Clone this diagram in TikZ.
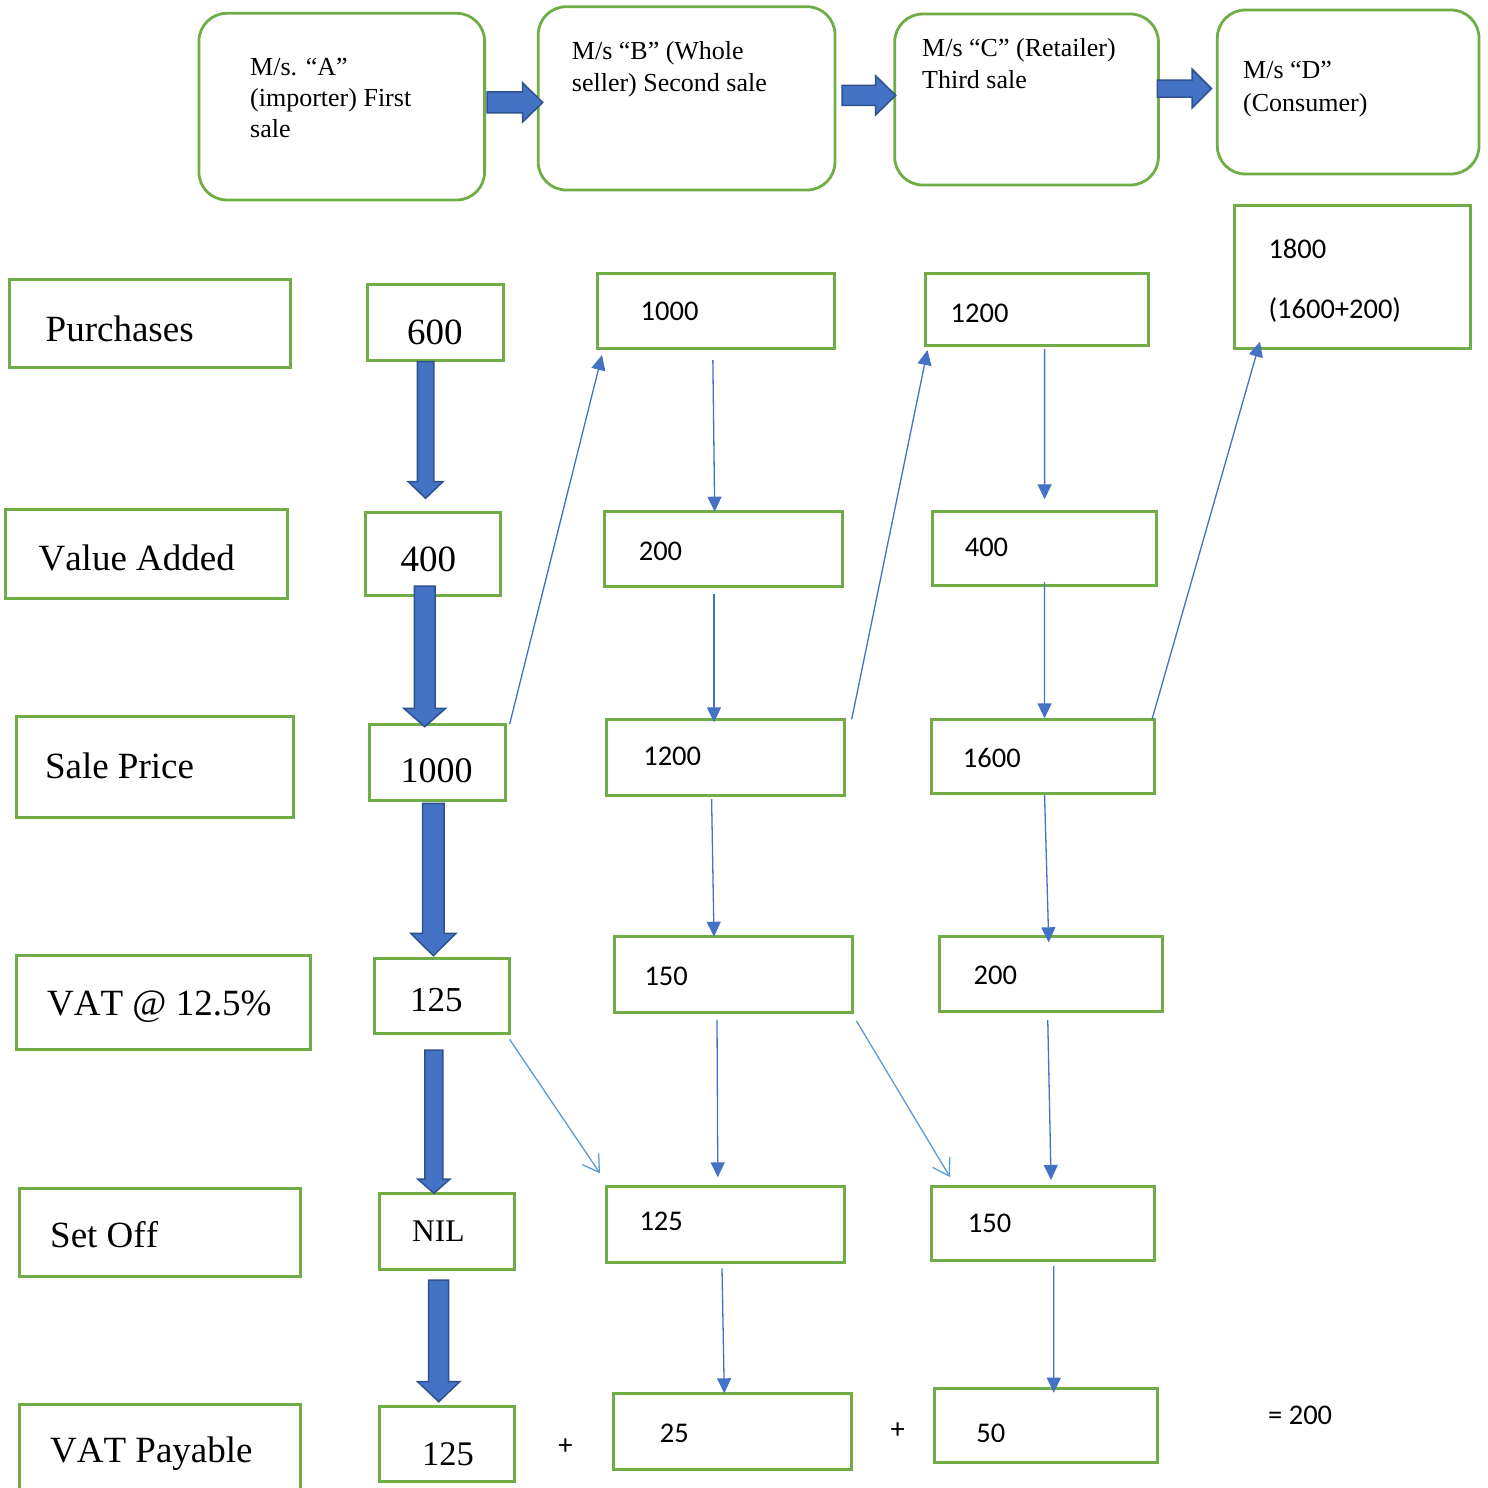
\documentclass[tikz,border=0pt]{standalone}
\usepackage{fontspec}
\setmainfont[Kerning=Off]{Liberation Serif}
\newfontfamily\calfont{Carlito}
\usetikzlibrary{arrows.meta,calc,fit}
\definecolor{boxgreen}{HTML}{70AD47}
\definecolor{arrowblue}{HTML}{4472C4}
\definecolor{arrowedge}{HTML}{2F528F}
\definecolor{lightblue}{HTML}{5B9BD5}
\tikzset{
  box/.style={draw=boxgreen, line width=3pt, inner sep=0pt, outer sep=0pt},
  rbox/.style={box, line width=2.8pt, rounded corners=28pt},
  blockarrow/.style={fill=arrowblue, draw=arrowedge, line width=1.5pt, line join=miter},
  thinarrow/.style={draw=arrowblue, line width=1.3pt, -{Triangle[width=14pt,length=15pt]}},
  openarrow/.style={draw=lightblue, line width=1.3pt, -{Straight Barb[width=20pt,length=16pt]}},
  hd/.style={anchor=base west, inner sep=0pt, font=\fontsize{26}{31}\selectfont},
  lab/.style={anchor=base west, inner sep=0pt, font=\fontsize{37}{44}\selectfont},
  tn/.style={anchor=base west, inner sep=0pt, font=\fontsize{#1}{#1}\selectfont},
  num/.style={anchor=base west, inner sep=0pt, font=\calfont\fontsize{28.5}{34}\selectfont},
  plus/.style={anchor=center, inner sep=0pt, font=\calfont\fontsize{28.5}{34}\selectfont}
}
% tail, tip, shaft half width, head half width, head length
\newcommand\blockdown[5]{\path[blockarrow] let \p1=#1, \p2=#2 in
  (\x1-#3,\y1) -- (\x1+#3,\y1) -- (\x1+#3,\y2+#5) -- (\x1+#4,\y2+#5) -- (\x1,\y2)
  -- (\x1-#4,\y2+#5) -- (\x1-#3,\y2+#5) -- cycle;}
\newcommand\blockright[5]{\path[blockarrow] let \p1=#1, \p2=#2 in
  (\x1,\y1+#3) -- (\x2-#5,\y1+#3) -- (\x2-#5,\y1+#4) -- (\x2,\y1)
  -- (\x2-#5,\y1-#4) -- (\x2-#5,\y1-#3) -- (\x1,\y1-#3) -- cycle;}
\begin{document}
\begin{tikzpicture}[x=1pt,y=-1pt]
\path[use as bounding box, fill=white] (0,0) rectangle (1488,1488);

% top rounded boxes
\node[rbox, fit={(198.9,13.3) (484.6,200)}] (A) {};
\node[rbox, fit={(538.2,6.7) (835,190)}] (B) {};
\node[rbox, fit={(894.7,14) (1158.4,185)}] (C) {};
\node[rbox, fit={(1217.3,10) (1479,174)}] (D) {};
\node[hd] (tA1) at (250,76) {M/s. “A”};
\node[hd] (tA2) at (250,106.7) {(importer) First};
\node[hd] (tA3) at (250,137.7) {sale};
\node[hd] (tB1) at (571.7,59.3) {M/s “B” (Whole};
\node[hd] (tB2) at (571.7,91.7) {seller) Second sale};
\node[hd] (tC1) at (922,56.7) {M/s “C” (Retailer)};
\node[hd] (tC2) at (922,88.3) {Third sale};
\node[hd] (tD1) at (1243,78) {M/s “D”};
\node[hd] (tD2) at (1243,111) {(Consumer)};

% row labels
\node[box, fit={(9.5,279) (290.6,367.7)}] (Lpur) {};
\node[box, fit={(5.9,509.3) (287.5,598.3)}] (Lval) {};
\node[box, fit={(16.2,716.7) (293.7,817.3)}] (Lsale) {};
\node[box, fit={(16.2,955) (310,1049.3)}] (Lvat) {};
\node[box, fit={(19,1188.3) (300.3,1276.7)}] (Lset) {};
\node[box, fit={(19,1404.3) (300.3,1500)}] (Lpay) {};
\node[lab] (tLpur) at (45.5,341.7) {Purchases};
\node[lab] (tLval) at (38.4,570) {Value Added};
\node[lab] (tLsale) at (44.8,778.3) {Sale Price};
\node[lab] (tLvat) at (47,1015) {VAT @ 12.5\%};
\node[lab] (tLset) at (50,1247.3) {Set Off};
\node[lab] (tLpay) at (50,1462.7) {VAT Payable};

% column 1
\node[box, fit={(367.7,284) (503.4,360)}] (c1r1) {};
\node[box, fit={(365,512.7) (500.2,595)}] (c1r2) {};
\node[box, fit={(369.5,724.3) (505.2,800)}] (c1r3) {};
\node[box, fit={(374.3,958.3) (509.6,1033.3)}] (c1r4) {};
\node[box, fit={(379.1,1193.3) (514.1,1269)}] (c1r5) {};
\node[box, fit={(379.1,1406.7) (514.1,1481.7)}] (c1r6) {};
\node[tn=37] (t11) at (407,344.3) {600};
\node[tn=37] (t12) at (400.5,571) {400};
\node[tn=36] (t13) at (400.5,782.7) {1000};
\node[tn=35] (t14) at (409.8,1011.7) {125};
\node[tn=31.5] (t15) at (412,1241.7) {NIL};
\node[tn=34.5] (t16) at (421.8,1465) {125};

% column 2
\node[box, fit={(597.2,273.3) (834.5,348.3)}] (c2r1) {};
\node[box, fit={(604.9,511.7) (842.5,586.7)}] (c2r2) {};
\node[box, fit={(606,719.3) (844.8,795.3)}] (c2r3) {};
\node[box, fit={(614.4,936.7) (852.5,1012.7)}] (c2r4) {};
\node[box, fit={(606,1186.7) (844.8,1262.7)}] (c2r5) {};
\node[box, fit={(613.3,1393.3) (851,1469)}] (c2r6) {};
\node[num] (t21) at (640.5,320) {1000};
\node[num] (t22) at (638.6,560.7) {200};
\node[num] (t23) at (643.1,765) {1200};
\node[num] (t24) at (644.3,985) {150};
\node[num] (t25) at (639.3,1230.7) {125};
\node[num] (t26) at (659.7,1442.7) {25};

% column 3
\node[box, fit={(925.2,273.3) (1148.3,345)}] (c3r1) {};
\node[box, fit={(932.8,511.7) (1156,585)}] (c3r2) {};
\node[box, fit={(931.3,719.3) (1154.8,793.3)}] (c3r3) {};
\node[box, fit={(939,936.7) (1162.5,1011.7)}] (c3r4) {};
\node[box, fit={(931.3,1186.7) (1154.8,1260.7)}] (c3r5) {};
\node[box, fit={(934.4,1388.3) (1157.9,1462.7)}] (c3r6) {};
\node[num] (t31) at (950.5,322.7) {1200};
\node[num] (t32) at (964.6,556.7) {400};
\node[num] (t33) at (962.7,767.7) {1600};
\node[num] (t34) at (973.4,984) {200};
\node[num] (t35) at (967.7,1232) {150};
\node[num] (t36) at (976.1,1442) {50};

% column 4
\node[box, fit={(1234,205) (1470,348.3)}] (c4) {};
\node[num] (t41) at (1268.3,258.3) {1800};
\node[num] (t42) at (1268.3,318) {(1600+200)};

% sums
\node[plus] (p1) at (565.5,1446.7) {+};
\node[plus] (p2) at (897.7,1430.7) {+};
\node[num] (tot) at (1268,1424) {= 200};

% block arrows (top)
\blockright{([xshift=2.4pt,yshift=4.2pt]A.east)}{([xshift=4.5pt]B.west)}{10.5pt}{19.5pt}{20pt}
\blockright{([xshift=7pt,yshift=3pt]B.east)}{([xshift=1pt]C.west)}{10pt}{19.5pt}{20pt}
\blockright{([xshift=-1pt,yshift=11pt]C.east)}{([xshift=-5.8pt]D.west)}{8.5pt}{19.5pt}{19.5pt}

% block arrows (column 1)
\blockdown{([xshift=-10pt,yshift=-1.7pt]c1r1.south)}{([yshift=14.4pt]c1r2.north)}{8.3pt}{17.3pt}{16.6pt}
\blockdown{([xshift=-7.9pt,yshift=9pt]c1r2.south)}{([yshift=-2.4pt]c1r3.north)}{10.3pt}{21pt}{18.4pt}
\blockdown{([xshift=-4pt,yshift=-3.3pt]c1r3.south)}{([yshift=2.6pt]c1r4.north)}{10.8pt}{22.7pt}{22.4pt}
\blockdown{([xshift=-8.1pt,yshift=-16.7pt]c1r4.south)}{(c1r5.north)}{9pt}{16.2pt}{14.3pt}
\blockdown{([xshift=-7.9pt,yshift=-11pt]c1r5.south)}{([yshift=5pt]c1r6.north)}{10pt}{21pt}{20pt}

% thin arrows, column 2
\draw[thinarrow] ([xshift=-3pt,yshift=-11.7pt]c2r1.south) -- ([xshift=-9pt]c2r2.north);
\draw[thinarrow] ([xshift=-9.7pt,yshift=-7.3pt]c2r2.south) -- ([xshift=-11.4pt,yshift=-3pt]c2r3.north);
\draw[thinarrow] ([xshift=-13.8pt,yshift=-3.7pt]c2r3.south) -- ([xshift=-19.45pt]c2r4.north);
\draw[thinarrow] ([xshift=-16.45pt,yshift=-7.3pt]c2r4.south) -- ([xshift=-7.6pt,yshift=9.4pt]c2r5.north);
\draw[thinarrow] ([xshift=-3.4pt,yshift=-5.6pt]c2r5.south) -- ([xshift=-7.85pt]c2r6.north);

% thin arrows, column 3
\draw[thinarrow] ([xshift=7.85pt,yshift=-4pt]c3r1.south) -- ([xshift=0.2pt,yshift=12.4pt]c3r2.north);
\draw[thinarrow] ([yshift=3pt]c3r2.south) -- ([xshift=1.5pt,yshift=1pt]c3r3.north);
\draw[thinarrow] ([xshift=1.5pt,yshift=-1.7pt]c3r3.south) -- ([xshift=-2pt,yshift=-5.6pt]c3r4.north);
\draw[thinarrow] ([xshift=-3pt,yshift=-8.3pt]c3r4.south) -- ([xshift=8pt,yshift=6.7pt]c3r5.north);
\draw[thinarrow] ([xshift=10.75pt,yshift=-5.3pt]c3r5.south) -- ([xshift=7.65pt,yshift=-4.4pt]c3r6.north);

% diagonal arrows
\draw[thinarrow] ([xshift=4.4pt]c1r3.north east) -- ([xshift=4.8pt,yshift=-6.7pt]c2r1.south west);
\draw[thinarrow] ([xshift=6.9pt]c2r3.north east) -- ([xshift=2.3pt,yshift=-5pt]c3r1.south west);
\draw[thinarrow] ([xshift=-2.8pt]c3r3.north east) -- ([xshift=26pt,yshift=6.6pt]c4.south west);
\draw[openarrow] ([yshift=-6pt]c1r4.south east) -- ([xshift=-6pt,yshift=13.4pt]c2r5.north west);
\draw[openarrow] ([xshift=4pt,yshift=-8.3pt]c2r4.south east) -- ([xshift=18.7pt,yshift=9.7pt]c3r5.north west);
\end{tikzpicture}
\end{document}
